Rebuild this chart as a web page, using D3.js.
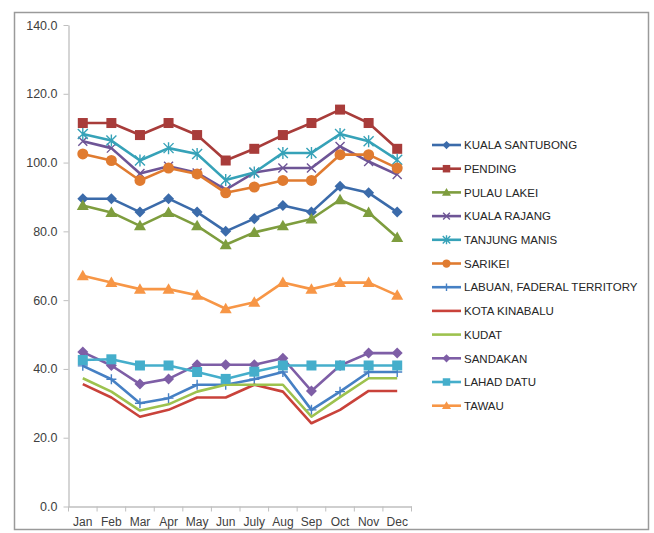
<!DOCTYPE html>
<html><head><meta charset="utf-8">
<script src="https://cdn.jsdelivr.net/npm/d3@7"></script>
<style>body{margin:0;background:#fff;}svg{display:block;font-family:"Liberation Sans",Arial,sans-serif;}</style>
</head><body><svg id="c" width="654" height="533"></svg>
<script>
const months = ["Jan","Feb","Mar","Apr","May","Jun","July","Aug","Sep","Oct","Nov","Dec"];
const yTicks = [0,20,40,60,80,100,120,140];
const names = ["KUALA SANTUBONG","PENDING","PULAU LAKEI","KUALA RAJANG","TANJUNG MANIS","SARIKEI","LABUAN, FADERAL TERRITORY","KOTA KINABALU","KUDAT","SANDAKAN","LAHAD DATU","TAWAU"];
const kualaSantubong = [89.5,89.5,85.6,89.5,85.6,80.0,83.7,87.5,85.6,93.1,91.2,85.6];
const pending        = [111.5,111.5,108.0,111.5,108.0,100.6,104.0,108.0,111.5,115.4,111.5,104.0];
const pulauLakei     = [87.5,85.5,81.6,85.5,81.6,76.1,79.7,81.6,83.6,89.2,85.5,78.2];
const kualaRajang    = [106.2,104.2,96.8,98.9,97.0,92.1,97.1,98.4,98.4,104.7,100.3,96.5];
const tanjungManis   = [108.3,106.4,100.6,104.2,102.5,94.9,97.1,102.8,102.8,108.3,106.2,100.8];
const sarikei        = [102.5,100.6,94.8,98.4,96.7,91.2,92.9,94.8,94.8,102.3,102.3,98.4];
const labuan         = [40.9,37.0,30.0,31.5,35.4,35.4,37.0,39.1,28.1,33.4,39.1,39.1];
const kotaKinabalu   = [35.6,31.7,26.1,28.1,31.7,31.7,35.4,33.4,24.2,28.1,33.6,33.6];
const kudat          = [37.3,33.4,27.9,29.7,33.4,35.4,35.4,35.4,26.1,31.8,37.3,37.3];
const sandakan       = [44.9,41.0,35.6,37.1,41.2,41.2,41.2,43.1,33.6,41.0,44.6,44.6];
const lahadDatu      = [42.6,42.8,41.0,41.0,39.1,37.1,39.2,41.0,41.0,41.0,41.0,41.0];
const tawau          = [67.1,65.1,63.2,63.2,61.4,57.5,59.4,65.1,63.2,65.1,65.1,61.4];
const seriesValues = [kualaSantubong,pending,pulauLakei,kualaRajang,tanjungManis,sarikei,labuan,kotaKinabalu,kudat,sandakan,lahadDatu,tawau];

const colors = ["#3B6BAA","#A83C3A","#7E9D3E","#6E5596","#36A2B8","#E07B30","#4680C4","#C9423A","#9DC24E","#7E5EA6","#45AECB","#F79646"];
const markers = ["diamond","square","triangle","x","star","circle","plus","none","none","diamond","square","triangle"];

const svg = d3.select("#c");
svg.append("rect").attr("x",14.5).attr("y",12.5).attr("width",634).attr("height",517)
  .attr("fill","#fff").attr("stroke","#9a9a9a").attr("stroke-width",1.5);

const x0 = 68.5, x1 = 411.5, yTop = 25, yBot = 506.5;
const xBand = d3.scaleBand().domain(months).range([x0,x1]);
const y = d3.scaleLinear().domain([0,140]).range([yBot,yTop]);
const xc = m => xBand(m) + xBand.bandwidth()/2;

// y axis
const yAxis = svg.append("g").attr("transform",`translate(${x0},0)`)
  .call(d3.axisLeft(y).tickValues(yTicks).tickFormat(d3.format(".1f")).tickSize(5).tickSizeOuter(0));
yAxis.select(".domain").attr("stroke","#BFBFBF").attr("stroke-width",1.3);
yAxis.selectAll(".tick line").attr("stroke","#BFBFBF");
yAxis.selectAll("text").attr("fill","#404040").attr("font-size",12.5).attr("x",-11);

// x axis
const xAxis = svg.append("g").attr("transform",`translate(0,${yBot})`)
  .call(d3.axisBottom(xBand).tickSize(0).tickSizeOuter(0));
xAxis.select(".domain").attr("stroke","#BFBFBF").attr("stroke-width",1.3);
xAxis.selectAll("text").attr("fill","#404040").attr("font-size",12).attr("dy","1.35em");
svg.append("g").selectAll("line").data(d3.range(months.length+1)).join("line")
  .attr("x1",i=>x0+i*xBand.step()).attr("x2",i=>x0+i*xBand.step())
  .attr("y1",yBot).attr("y2",yBot+5).attr("stroke","#BFBFBF");

function drawMarker(g, type, color, cx, cy, s){
  s = s||1;
  if(type==="diamond"){
    g.append("path").attr("d",`M${cx},${cy-5.5*s}L${cx+5.5*s},${cy}L${cx},${cy+5.5*s}L${cx-5.5*s},${cy}Z`).attr("fill",color);
  } else if(type==="square"){
    g.append("rect").attr("x",cx-5*s).attr("y",cy-5*s).attr("width",10*s).attr("height",10*s).attr("fill",color);
  } else if(type==="triangle"){
    g.append("path").attr("d",`M${cx},${cy-6*s}L${cx+6*s},${cy+4.5*s}L${cx-6*s},${cy+4.5*s}Z`).attr("fill",color);
  } else if(type==="circle"){
    g.append("circle").attr("cx",cx).attr("cy",cy).attr("r",5.5*s).attr("fill",color);
  } else if(type==="x"){
    const r=4.5*s;
    g.append("path").attr("d",`M${cx-r},${cy-r}L${cx+r},${cy+r}M${cx-r},${cy+r}L${cx+r},${cy-r}`).attr("stroke",color).attr("stroke-width",1.4).attr("fill","none");
  } else if(type==="star"){
    const r=5*s;
    g.append("path").attr("d",`M${cx-r},${cy-r}L${cx+r},${cy+r}M${cx-r},${cy+r}L${cx+r},${cy-r}M${cx},${cy-r*1.2}L${cx},${cy+r*1.2}`).attr("stroke",color).attr("stroke-width",1.4).attr("fill","none");
  } else if(type==="plus"){
    const r=5*s;
    g.append("path").attr("d",`M${cx-r},${cy}L${cx+r},${cy}M${cx},${cy-r}L${cx},${cy+r}`).attr("stroke",color).attr("stroke-width",1.4).attr("fill","none");
  }
}

const line = d3.line().x((d,i)=>xc(months[i])).y(d=>y(d));
// draw in reverse order so earlier series are on top (Excel draws first first; later on top)
seriesValues.forEach((vals,si)=>{
  const g = svg.append("g");
  g.append("path").attr("d",line(vals)).attr("fill","none").attr("stroke",colors[si]).attr("stroke-width",2.6).attr("stroke-linejoin","round");
  vals.forEach((v,i)=>drawMarker(g,markers[si],colors[si],xc(months[i]),y(v)));
});

// legend
const legY0 = 145, legStep = 23.7;
const leg = svg.append("g");
names.forEach((n,i)=>{
  const yy = legY0 + i*legStep;
  leg.append("line").attr("x1",432).attr("x2",461).attr("y1",yy).attr("y2",yy).attr("stroke",colors[i]).attr("stroke-width",2.6);
  drawMarker(leg,markers[i],colors[i],446.5,yy,0.75);
  leg.append("text").attr("x",464).attr("y",yy+4.2).attr("font-size",11.5).attr("fill","#262626").text(n);
});
</script></body></html>
